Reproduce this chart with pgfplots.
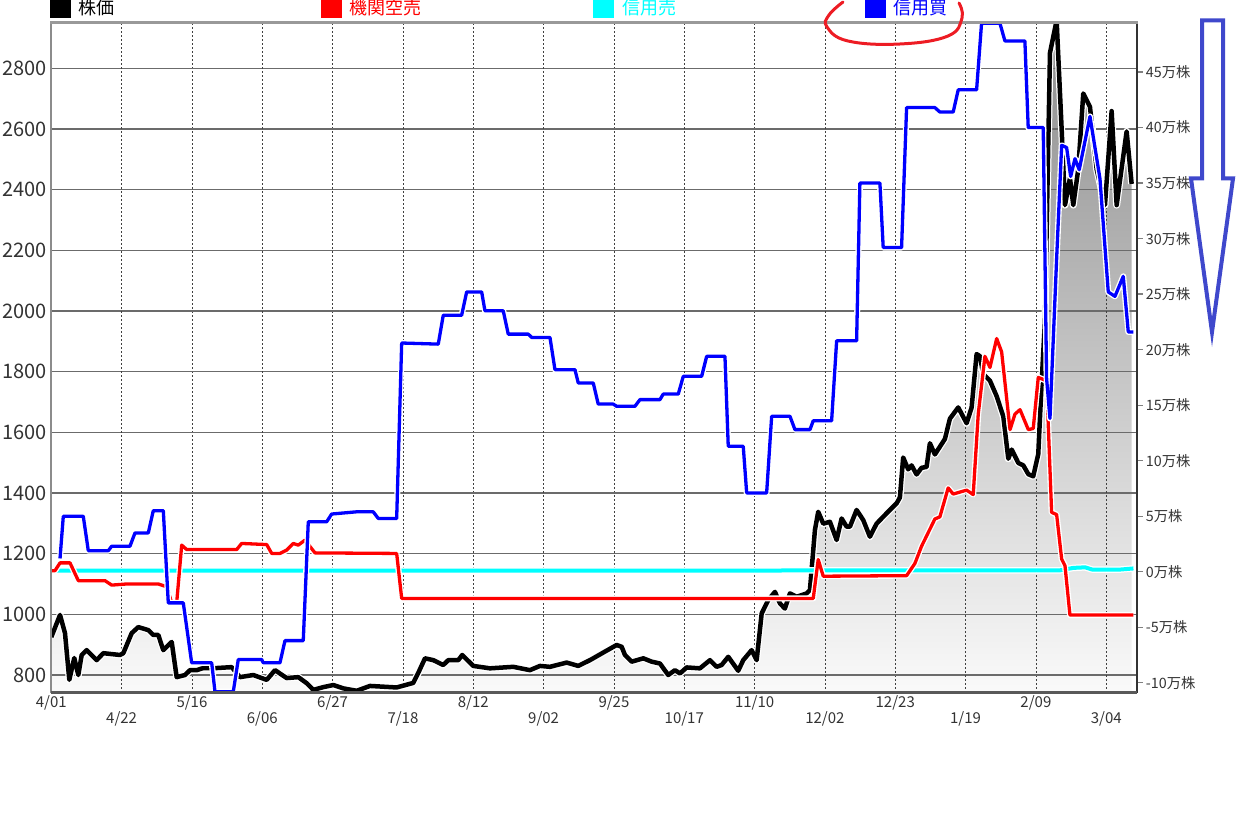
\documentclass[border=0pt]{standalone}
\usepackage{fontspec}
\setmainfont{Noto Sans CJK JP}
\usepackage{pgfplots}
\pgfplotsset{compat=1.18}
\usepackage{pgfplotstable}

\definecolor{lred}{RGB}{255,0,0}
\definecolor{lcyan}{RGB}{0,255,255}
\definecolor{lblue}{RGB}{0,0,255}
\definecolor{penred}{RGB}{237,28,36}
\definecolor{penblue}{RGB}{63,72,204}

% 株価 (円), x = 営業日 (4/01 = 0)
\pgfplotstableread{
x y
0 925
1.86 998
2.92 938
3.84 784
4.9 856
5.76 800
6.48 866
7.55 882
9.68 849
11.09 872
14.65 866
15.36 872
17.15 938
18.55 958
20.69 948
21.75 932
22.82 932
23.89 882
25.68 909
26.74 793
28.51 800
29.58 816
31.0 816
32.42 823
35.27 823
38.47 826
40.24 793
43.08 800
45.94 784
47.71 816
50.2 790
52.68 793
54.47 773
55.88 751
58.0 760
60.14 767
62.27 756
65.13 748
67.97 764
73.66 759
77.2 774
78.27 807
79.7 855
81.47 849
83.6 833
84.67 849
86.8 849
87.65 866
90.0 830
93.56 822
98.53 827
102.09 816
104.22 830
106.36 827
109.92 841
112.39 830
114.89 849
117.72 874
120.58 899
121.65 893
122.35 866
123.78 844
126.26 855
128.04 844
129.81 838
131.58 800
133.01 816
134.08 805
135.51 825
138.34 822
140.48 849
141.9 827
142.97 833
144.38 860
146.51 814
147.58 849
149.37 882
150.44 849
151.51 1003
152.91 1047
154.34 1074
155.41 1036
156.47 1019
157.54 1069
158.97 1058
161.1 1069
161.8 1080
162.87 1278
163.57 1338
164.64 1299
166.07 1305
167.5 1245
168.56 1316
169.63 1289
170.33 1289
171.76 1344
173.16 1311
174.59 1256
176.02 1299
178.15 1333
180.29 1366
180.99 1385
181.69 1517
182.76 1478
183.48 1491
184.55 1461
185.61 1483
186.68 1486
187.39 1564
188.45 1527
190.59 1578
191.66 1645
193.43 1682
195.22 1630
196.29 1682
197.35 1858
198.06 1851
198.77 1792
200.2 1770
201.63 1719
203.05 1652
204.11 1513
204.84 1543
206.25 1499
207.31 1491
208.38 1462
209.43 1455
210.5 1528
211.22 1763
211.93 1969
213.0 2851
214.42 2958
215.49 2599
216.2 2349
217.26 2438
217.97 2349
219.03 2467
220.1 2717
221.53 2673
222.96 2467
224.73 2349
226.15 2659
227.22 2349
229.35 2592
230.42 2419
}\price

% 信用買 (万株)
\pgfplotstableread{
x y
1.86 1.2
2.56 5.0
6.82 5.0
7.89 1.9
12.16 1.9
12.88 2.3
16.78 2.3
17.85 3.5
20.69 3.5
21.75 5.5
23.89 5.5
24.95 -2.8
28.15 -2.8
29.94 -8.2
34.21 -8.2
34.91 -10.8
38.81 -10.8
39.88 -7.9
44.87 -7.9
45.21 -8.2
48.77 -8.2
49.84 -6.2
53.74 -6.2
54.81 4.5
58.73 4.5
59.8 5.2
65.13 5.4
68.67 5.4
69.73 4.8
73.66 4.8
74.73 20.6
82.53 20.5
83.6 23.1
87.52 23.1
88.59 25.2
91.79 25.2
92.49 23.5
96.39 23.5
97.46 21.4
101.73 21.4
102.45 21.1
106.36 21.1
107.42 18.2
111.69 18.2
112.39 17.0
115.59 17.0
116.65 15.1
119.85 15.1
120.58 14.9
124.48 14.9
125.55 15.5
129.81 15.5
130.52 16.0
133.72 16.0
134.79 17.6
138.71 17.6
139.78 19.4
143.68 19.4
144.38 11.3
147.58 11.3
148.31 7.1
152.57 7.1
153.64 14.0
157.54 14.0
158.61 12.8
161.81 12.8
162.51 13.6
166.43 13.6
167.5 20.8
171.76 20.8
172.46 35.0
176.73 35.0
177.43 29.2
181.35 29.2
182.42 41.8
188.45 41.8
189.52 41.4
192.36 41.4
193.43 43.4
197.35 43.4
198.41 49.4
202.32 49.4
203.39 47.8
207.65 47.8
208.36 40.0
211.56 40.0
212.28 17.4
213.0 13.8
214.42 28.2
215.49 38.4
216.55 38.2
217.41 35.6
218.33 37.2
219.24 36.2
221.53 41.0
223.66 35.4
225.43 25.2
226.86 24.8
228.63 26.6
229.7 21.6
230.77 21.6
}\kaizan

% 機関空売 (万株)
\pgfplotstableread{
x y
0 0.1
0.79 0.1
1.86 0.8
3.99 0.8
5.76 -0.8
11.45 -0.8
12.88 -1.2
16.08 -1.1
22.82 -1.1
24.61 -1.35
25.68 -2.8
26.74 -2.8
27.81 2.4
28.88 2.0
39.54 2.0
40.6 2.55
45.94 2.45
47.01 1.65
48.77 1.65
50.2 1.95
51.61 2.55
52.68 2.4
54.1 2.85
56.24 1.7
73.66 1.65
74.73 -2.4
162.51 -2.4
163.57 1.1
164.64 -0.4
182.42 -0.35
184.19 0.75
185.61 2.3
188.45 4.75
189.52 4.95
191.29 7.55
192.36 7.0
195.22 7.35
196.63 6.95
197.7 14.2
199.13 19.4
200.2 18.4
201.63 21.0
202.69 19.8
204.48 12.8
205.54 14.2
206.61 14.6
208.38 12.8
209.43 12.9
210.5 17.5
212.28 17.2
213.35 5.35
214.42 5.15
215.49 1.15
216.2 0.55
217.26 -3.9
230.77 -3.9
}\karauri

% 信用売 (万株)
\pgfplotstableread{
x y
0 0.1
215 0.12
218 0.35
220.5 0.4
222 0.2
228 0.2
230.8 0.3
}\urizan

\pgfplotsset{
  base/.style={
    at={(51.3pt,122.3pt)}, anchor=south west,
    scale only axis, width=1085.4pt, height=670.4pt,
    xmin=0, xmax=231.5,
  },
}

\begin{document}
\begin{tikzpicture}
\path[use as bounding box] (0,0) rectangle (1260pt,815pt);

% price axis: fill, grid, labels
\begin{axis}[base,
  ymin=741.7, ymax=2951.6,
  axis on top,
  axis line style={draw=none},
  xtick={0,30,60,90,120,150,180,210},
  xticklabels={4/01,5/16,6/27,8/12,9/25,11/10,12/23,2/09},
  extra x ticks={15,45,75,105,135,165,195,225},
  extra x tick labels={4/22,6/06,7/18,9/02,10/17,12/02,1/19,3/04},
  extra x tick style={grid=major, tick label style={yshift=-16pt}},
  ytick={800,1000,...,2800},
  xtick style={draw=none}, ytick style={draw=none},
  grid=major,
  x grid style={black!75, dash pattern=on 2pt off 2pt, line width=0.8pt},
  y grid style={black!58, line width=1.2pt},
  /pgf/number format/assume math mode=true,
  /pgf/number format/1000 sep={},
  yticklabel style={font=\fontsize{20}{22}\selectfont, text=black!80, inner sep=0pt, xshift=-4.5pt},
  xticklabel style={font=\fontsize{15}{17}\selectfont, text=black!80, inner sep=0pt, yshift=-3pt},
]
\addplot[draw=none, top color=black!45, bottom color=black!2] table {\price}
  -- (axis cs:230.42,741.7) -- (axis cs:0,741.7) -- cycle;
\end{axis}

% price line
\begin{axis}[base, ymin=741.7, ymax=2951.6, hide axis]
\addplot[white, line width=7pt, line join=round] table {\price};
\addplot[black, line width=4.5pt, line join=round] table {\price};
\end{axis}

% volume axis (right)
\begin{axis}[base, ymin=-10.89, ymax=49.48,
  axis x line=none, axis y line*=right,
  axis line style={black!80, line width=2pt},
  ytick={-10,-5,...,45},
  yticklabels={-10万株,-5万株,0万株,5万株,10万株,15万株,20万株,25万株,30万株,35万株,40万株,45万株},
  tick align=outside, major tick length=6pt,
  ytick style={black!50, line width=1.3pt},
  yticklabel style={font=\fontsize{14.3}{16}\selectfont, text=black!80, inner sep=0pt, xshift=3pt},
]
\addplot[white, line width=6.5pt, line join=round] table {\urizan};
\addplot[lcyan, line width=4pt, line join=round] table {\urizan};
\addplot[white, line width=6pt, line join=round] table {\karauri};
\addplot[lred, line width=3.3pt, line join=round] table {\karauri};
\addplot[white, line width=6pt, line join=round] table {\kaizan};
\addplot[lblue, line width=3.3pt, line join=round] table {\kaizan};
\end{axis}

% frame
\draw[black!45, line width=2pt] (51.3pt,122.3pt) -- (51.3pt,792.7pt);
\draw[black!65, line width=2.5pt] (51.3pt,122.3pt) -- (1136.7pt,122.3pt);
\draw[black!40, line width=3pt] (50.3pt,792.7pt) -- (1137.7pt,792.7pt);

% legend
\fill[black] (50pt,797pt) rectangle (71pt,818pt);
\node[anchor=base west, inner sep=0pt, font=\fontsize{18}{20}\selectfont] at (78pt,800.5pt) {株価};
\fill[lred] (321pt,797pt) rectangle (342pt,818pt);
\node[anchor=base west, inner sep=0pt, text=lred, font=\fontsize{18}{20}\selectfont] at (349pt,800.5pt) {機関空売};
\fill[lcyan] (593pt,797pt) rectangle (614pt,818pt);
\node[anchor=base west, inner sep=0pt, text=lcyan, font=\fontsize{18}{20}\selectfont] at (622pt,800.5pt) {信用売};
\fill[lblue] (865pt,797pt) rectangle (886pt,818pt);
\node[anchor=base west, inner sep=0pt, text=lblue, font=\fontsize{18}{20}\selectfont] at (893pt,800.5pt) {信用買};

% hand-drawn marks
\draw[penred, line width=3pt, line cap=round] plot[smooth, tension=0.7] coordinates {
  (843pt,813pt) (829pt,800pt) (827pt,788pt) (848pt,774pt) (900pt,771pt) (948pt,779pt) (962pt,797pt) (959pt,812pt)};
\draw[penblue, line width=4pt, line join=miter] (1202pt,794.5pt) -- (1223pt,794.5pt) -- (1223pt,636.5pt)
  -- (1233pt,636.5pt) -- (1212pt,483pt) -- (1191pt,636.5pt) -- (1202pt,636.5pt) -- cycle;
\end{tikzpicture}
\end{document}
